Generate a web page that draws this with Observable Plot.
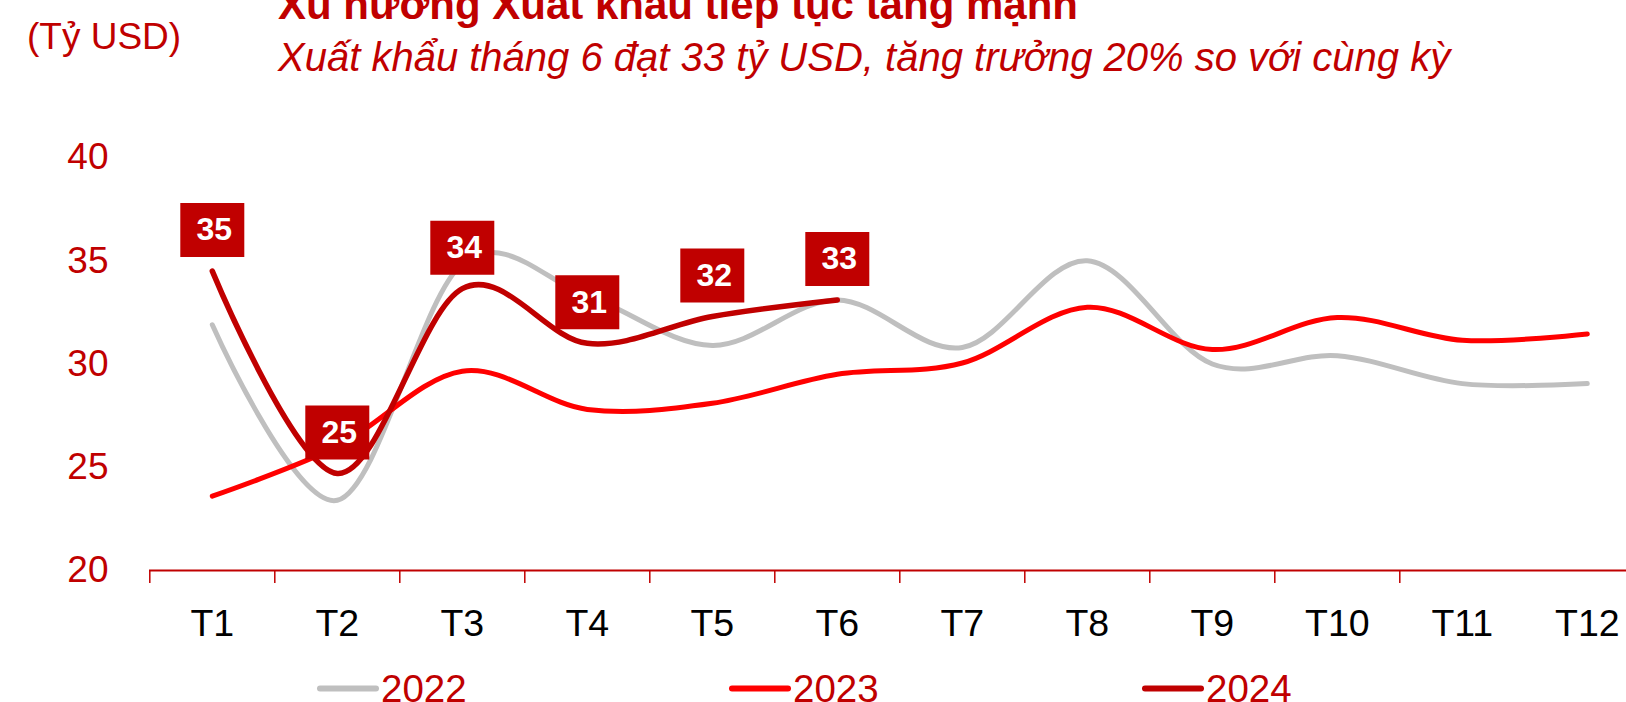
<!DOCTYPE html>
<html>
<head>
<meta charset="utf-8">
<script src="https://cdn.jsdelivr.net/npm/d3@7"></script>
<script src="https://cdn.jsdelivr.net/npm/@observablehq/plot@0.6"></script>
<style>
  html, body { margin: 0; padding: 0; background: #fff; overflow: hidden; }
  #wrap { position: relative; width: 1626px; height: 702px; }
  #chart, #overlay { position: absolute; left: 0; top: 0; }
  #overlay { pointer-events: none; }
  text { font-family: "Liberation Sans", Arial, sans-serif; }
</style>
</head>
<body>
<div id="wrap">
  <div id="chart"></div>
  <svg id="overlay" width="1626" height="702" xmlns="http://www.w3.org/2000/svg"></svg>
</div>
<script>
// ---- Data ----
const months = ["T1", "T2", "T3", "T4", "T5", "T6", "T7", "T8", "T9", "T10", "T11", "T12"];
const series = ["2022", "2023", "2024"];
const v2022 = [31.9, 23.4, 34.85, 33.3, 30.9, 33.1, 30.8, 35.0, 30.0, 30.4, 29.05, 29.05];
const v2023 = [23.6, 26.0, 29.65, 27.8, 28.1, 29.5, 30.05, 32.75, 30.7, 32.25, 31.15, 31.45];
const v2024 = [34.5, 24.7, 33.65, 31.0, 32.3, 33.1];
const yTicks = [20, 25, 30, 35, 40];
const colors = {"2022": "#bfbfbf", "2023": "#ff0000", "2024": "#c00000"};

const title = "Xu hướng Xuất khẩu tiếp tục tăng mạnh";
const subtitle = "Xuất khẩu tháng 6 đạt 33 tỷ USD, tăng trưởng 20% so với cùng kỳ";
const unit = "(Tỷ USD)";

const toRows = (vals, s) => vals.map((v, i) => ({m: i + 1, month: months[i], v, s}));
const r2022 = toRows(v2022, "2022");
const r2023 = toRows(v2023, "2023");
const r2024 = toRows(v2024, "2024");

const bandEdges = months.slice(0, 11).map((_, i) => i + 0.5);
const centers = months.map((_, i) => i + 1);

const FONT = "'Liberation Sans', Arial, sans-serif";
const boxSymbol = { draw(ctx) { ctx.rect(-32, -27, 64, 54); } };

const chart = Plot.plot({
  width: 1626,
  height: 702,
  marginLeft: 149,
  marginRight: 0,
  marginTop: 157,
  marginBottom: 132,
  style: { fontFamily: FONT, background: "transparent", overflow: "visible" },
  x: { type: "linear", domain: [0.5, 12.5], range: [149.3, 1649.3] },
  y: { domain: [20, 40] },
  marks: [
    Plot.axisY({ ticks: yTicks, tickSize: 0, tickPadding: 41, fontSize: 37, color: "#c00000", tickFormat: d => String(d), label: null }),
    Plot.axisX({ ticks: bandEdges, tickSize: 13, tickFormat: () => "", stroke: "#c00000", strokeWidth: 1.5, label: null }),
    Plot.axisX({ ticks: centers, tickSize: 0, tickPadding: 39, fontSize: 37.5, color: "#000", tickFormat: i => months[i - 1], label: null }),
    Plot.ruleY([20], { stroke: "#c00000", strokeWidth: 2 }),
    Plot.line(r2022, { x: "m", y: "v", stroke: colors["2022"], strokeWidth: 5, curve: "cardinal" }),
    Plot.line(r2023, { x: "m", y: "v", stroke: colors["2023"], strokeWidth: 5, curve: "cardinal" }),
    Plot.line(r2024, { x: "m", y: "v", stroke: colors["2024"], strokeWidth: 5.5, curve: "cardinal" }),
    Plot.dot(r2024, { x: "m", y: "v", dy: -41, symbol: boxSymbol, r: 10, fill: "#c00000", stroke: "none" }),
    Plot.text(r2024, { x: "m", y: "v", dy: -41, dx: 2, text: d => String(Math.round(d.v)), fill: "#fff", fontSize: 32, fontWeight: "bold", fontFamily: FONT })
  ]
});
document.getElementById("chart").appendChild(chart);

// ---- Title, subtitle, unit and legend ----
const ov = d3.select("#overlay");
ov.append("text").attr("x", 278).attr("y", 19).attr("font-size", 42).attr("font-weight", "bold").attr("fill", "#c00000").text(title);
ov.append("text").attr("x", 278).attr("y", 70.5).attr("font-size", 40).attr("font-style", "italic").attr("fill", "#c00000").text(subtitle);
ov.append("text").attr("x", 27).attr("y", 48.5).attr("font-size", 37).attr("fill", "#c00000").text(unit);

const legendPos = [{s: "2022", x: 320}, {s: "2023", x: 732}, {s: "2024", x: 1145}];
legendPos.forEach(({s, x}) => {
  ov.append("line").attr("x1", x).attr("x2", x + 56).attr("y1", 688.5).attr("y2", 688.5)
    .attr("stroke", colors[s]).attr("stroke-width", 6).attr("stroke-linecap", "round");
  ov.append("text").attr("x", x + 61).attr("y", 701.5).attr("font-size", 38.5).attr("fill", "#c00000").text(s);
});
</script>
</body>
</html>
